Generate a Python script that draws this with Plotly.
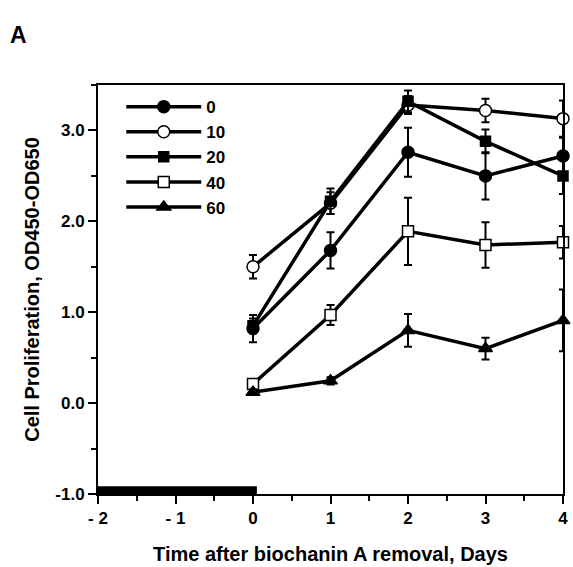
import plotly.graph_objects as go

# ---- data ----
days = [0, 1, 2, 3, 4]
conc_labels = ["0", "10", "20", "40", "60"]

y_0 = [0.82, 1.68, 2.76, 2.50, 2.72]
err_0 = [0.15, 0.20, 0.27, 0.26, 0.20]
y_10 = [1.50, 2.20, 3.28, 3.22, 3.13]
err_10 = [0.13, 0.12, 0.10, 0.13, 0.20]
y_20 = [0.85, 2.22, 3.32, 2.88, 2.50]
err_20 = [0.08, 0.14, 0.12, 0.13, 0.20]
y_40 = [0.21, 0.97, 1.89, 1.74, 1.77]
err_40 = [0.04, 0.11, 0.37, 0.25, 0.18]
y_60 = [0.12, 0.245, 0.80, 0.60, 0.91]
err_60 = [0.03, 0.04, 0.18, 0.12, 0.34]

treatment_period = [-2, 0]  # biochanin A exposure (black bar)

x_tickvals = [-2, -1, 0, 1, 2, 3, 4]
x_ticktext = ["- 2", "- 1", "0", "1", "2", "3", "4"]
y_tickvals = [-1, 0, 1, 2, 3]
y_ticktext = ["-1.0", "0.0", "1.0", "2.0", "3.0"]

series = [
    (y_0, err_0, "circle", "black", 12),
    (y_10, err_10, "circle", "white", 12),
    (y_20, err_20, "square", "black", 10),
    (y_40, err_40, "square", "white", 11),
    (y_60, err_60, "triangle-up", "black", 12),
]

FONT = "Liberation Sans, Arial, sans-serif"

fig = go.Figure()
for label, (ys, es, sym, fill, size) in zip(conc_labels, series):
    fig.add_trace(go.Scatter(
        x=days, y=ys, name=label, mode="lines+markers",
        line=dict(color="black", width=3.5),
        marker=dict(symbol=sym, size=size,
                    color=fill, line=dict(color="black", width=1.5)),
        error_y=dict(type="data", array=es, visible=True,
                     color="black", thickness=2, width=4),
        cliponaxis=False,
    ))

# black bar marking treatment period
fig.add_shape(type="rect", xref="x", yref="y",
              x0=treatment_period[0], x1=treatment_period[1] + 0.05,
              y0=-1, y1=-0.915, fillcolor="black", line=dict(width=0))

fig.update_layout(
    width=573, height=567,
    margin=dict(l=98, r=5, t=85, b=72),
    paper_bgcolor="white", plot_bgcolor="white",
    font=dict(family=FONT, color="black", size=16, weight="bold"),
    showlegend=True,
    legend=dict(x=0.05, y=0.99, xanchor="left", yanchor="top",
                bgcolor="rgba(0,0,0,0)", font=dict(size=17, weight="bold"),
                tracegroupgap=0, itemwidth=75),
    annotations=[
        dict(text="A", xref="paper", yref="paper", x=-0.17, y=1.122,
             xanchor="center", yanchor="middle", showarrow=False,
             font=dict(size=23, weight="bold", family=FONT)),
    ],
)

fig.update_xaxes(
    range=[-2, 4], tickvals=x_tickvals, ticktext=x_ticktext,
    ticks="outside", ticklen=8, tickwidth=2, tickcolor="black",
    minor=dict(dtick=0.5, ticks="outside", ticklen=5, tickwidth=2, tickcolor="black"),
    showline=True, linecolor="black", linewidth=2, mirror=True,
    showgrid=False, zeroline=False,
    tickfont=dict(size=17, weight="bold", family=FONT),
    title=dict(text="Time after biochanin A removal, Days",
               font=dict(size=20, weight="bold", family=FONT), standoff=20),
)
fig.update_yaxes(
    range=[-1, 3.5], tickvals=y_tickvals, ticktext=y_ticktext,
    ticks="outside", ticklen=8, tickwidth=2, tickcolor="black",
    minor=dict(dtick=0.5, ticks="outside", ticklen=5, tickwidth=2, tickcolor="black"),
    showline=True, linecolor="black", linewidth=2, mirror=True,
    showgrid=False, zeroline=False,
    tickfont=dict(size=17, weight="bold", family=FONT),
    title=dict(text="Cell Proliferation, OD450-OD650",
               font=dict(size=20, weight="bold", family=FONT), standoff=10),
)

fig.write_html("out.html", config={"displayModeBar": False},
               post_script="document.body.style.margin='0px';document.body.style.overflow='hidden';")
